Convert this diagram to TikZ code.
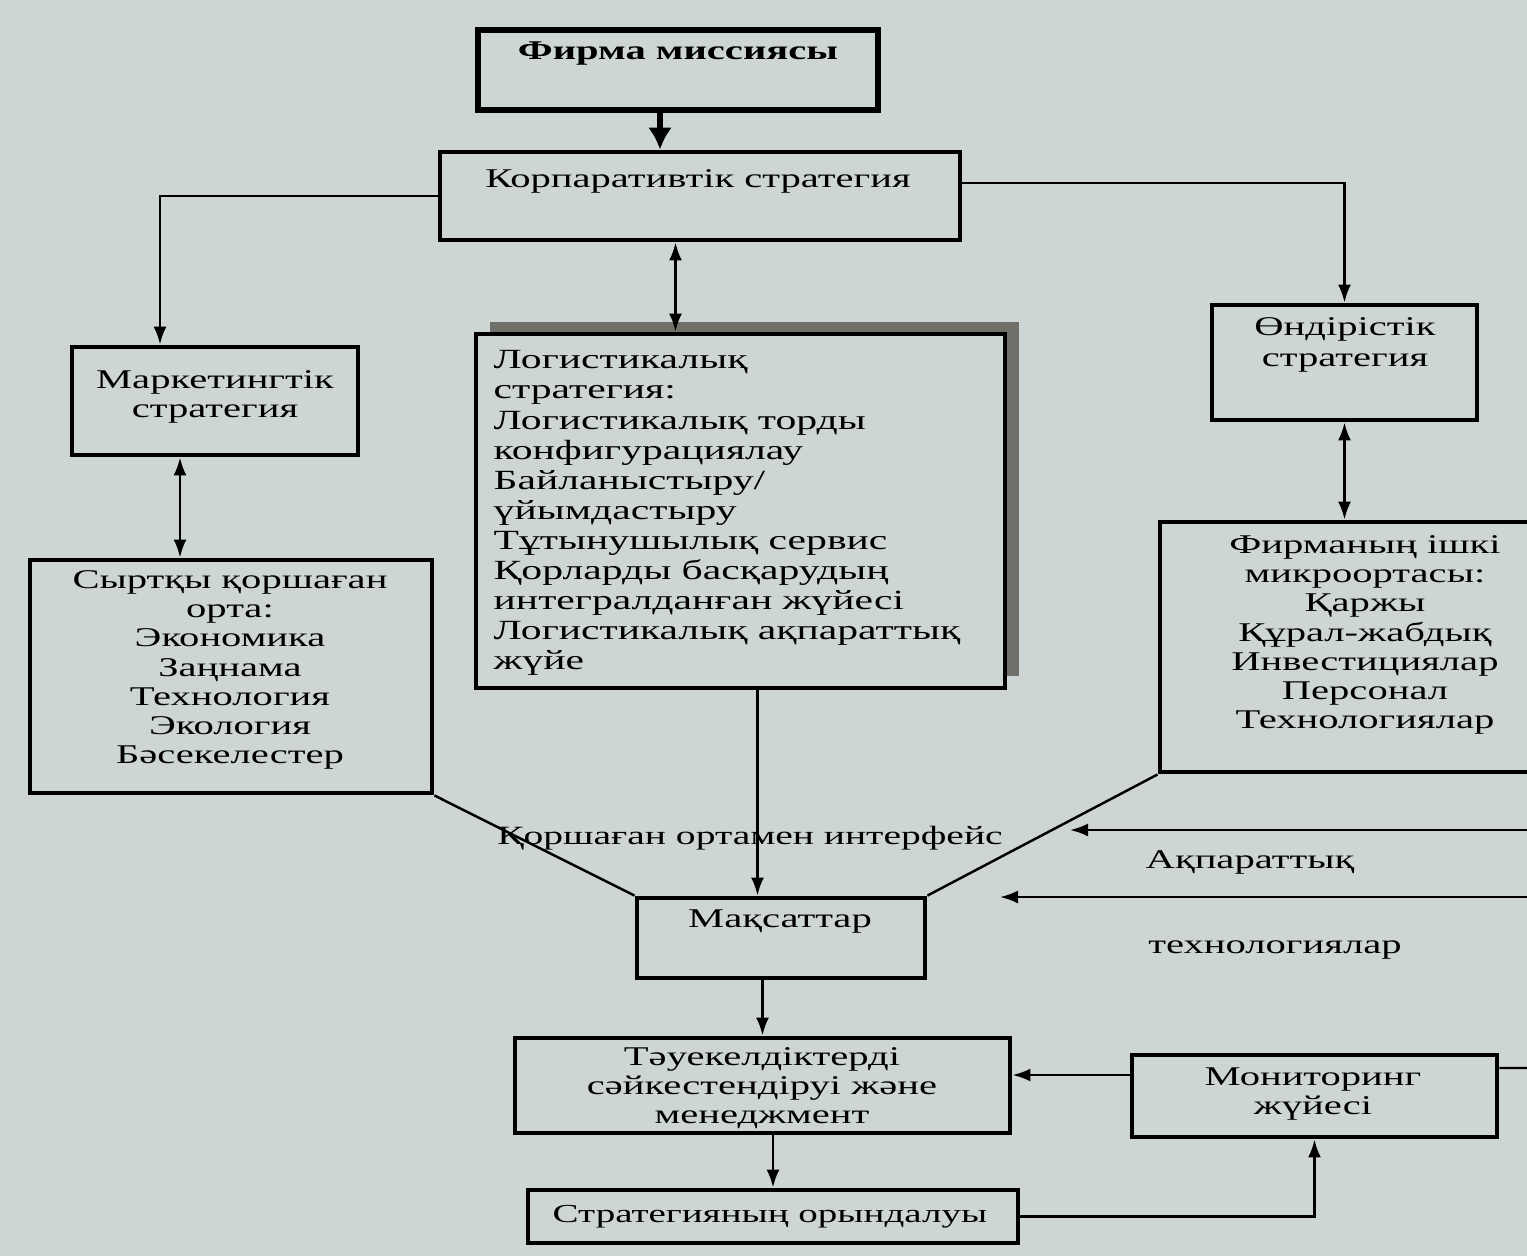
\documentclass[tikz,border=0pt]{standalone}
\usepackage{fontspec}
\setmainfont{Liberation Serif}[FakeStretch=1.5]
\usetikzlibrary{arrows.meta}
\definecolor{paper}{RGB}{206,213,213}
\definecolor{shadowgray}{RGB}{112,112,106}

\begin{document}
\begin{tikzpicture}[x=0.1mm,y=-0.1mm,
  box/.style={draw,fill=paper,line width=1.4pt,inner sep=0pt},
  txt/.style={font=\fontsize{7.7}{8.3}\selectfont,align=center,inner sep=0pt},
  btxt/.style={txt,font=\fontsize{7.7}{8.3}\selectfont\bfseries},
  con/.style={line width=0.7pt},
  >={Latex[length=1.8mm,width=1.3mm]}]

% Page
\useasboundingbox (0,0) rectangle (1527,1256);
\clip (0,0) rectangle (1527,1256);
\fill[paper] (0,0) rectangle (1527,1256);

% Boxes
\node[box,line width=1.8pt,minimum width=40mm,minimum height=8mm] (mis) at (678,70) {};
\node[box,minimum width=52mm,minimum height=8.8mm] (corp) at (700,196) {};
\node[box,minimum width=28.6mm,minimum height=10.8mm] (mkt) at (215,401) {};
\fill[shadowgray] (490,322) rectangle (1019,676);
\node[box,minimum width=52.9mm,minimum height=35.4mm] (log) at (740.5,511) {};
\node[box,minimum width=26.5mm,minimum height=11.5mm] (prod) at (1344.5,362.5) {};
\node[box,minimum width=40.2mm,minimum height=23.3mm] (ext) at (231,676.5) {};
\node[box,minimum width=38mm,minimum height=25mm] (inn) at (1350,647) {};
\node[box,minimum width=28.8mm,minimum height=8mm] (goal) at (781,938) {};
\node[box,minimum width=49.5mm,minimum height=9.5mm] (risk) at (762.5,1085.5) {};
\node[box,minimum width=36.5mm,minimum height=8.2mm] (mon) at (1314.5,1096) {};
\node[box,minimum width=49mm,minimum height=5.3mm] (exe) at (773,1216.5) {};

% Texts
\node[btxt] (mis-t) at (678,54) {Фирма миссиясы};
\node[txt] (corp-t) at (698,181) {Корпаративтік стратегия};
\node[txt] (mkt-t) at (215,397) {Маркетингтік\\стратегия};
\node[txt,align=left,anchor=north west,font=\fontsize{7.9}{8.55}\selectfont] (log-t) at (493,350)
  {Логистикалық\\стратегия:\\Логистикалық торды\\конфигурациялау\\Байланыстыру/\\үйымдастыру\\Тұтынушылық сервис\\Қорларды басқарудың\\интегралданған жүйесі\\Логистикалық ақпараттық\\жүйе};
\node[txt,font=\fontsize{7.7}{9}\selectfont] (prod-t) at (1345,345) {Өндірістік\\стратегия};
\node[txt] (ext-t) at (230,670) {Сыртқы қоршаған\\орта:\\Экономика\\Заңнама\\Технология\\Экология\\Бәсекелестер};
\node[txt] (inn-t) at (1365,635) {Фирманың ішкі\\микроортасы:\\Қаржы\\Құрал-жабдық\\Инвестициялар\\Персонал\\Технологиялар};
\node[txt] (goal-t) at (780,922) {Мақсаттар};
\node[txt] (risk-t) at (762,1088) {Тәуекелдіктерді\\сәйкестендіруі және\\менеджмент};
\node[txt] (mon-t) at (1313,1094) {Мониторинг\\жүйесі};
\node[txt,font=\fontsize{7.4}{8}\selectfont] (exe-t) at (770,1217) {Стратегияның орындалуы};
\node[txt,font=\fontsize{7.5}{8}\selectfont] (ifc) at (750,838) {Қоршаған ортамен интерфейс};
\node[txt] (it-a) at (1250,862) {Ақпараттық};
\node[txt] (it-b) at (1275,950) {технологиялар};

% Mission to corporate
\coordinate (m1) at ([xshift=-1.8mm]mis.south);
\draw[->,line width=1.6pt,>={Latex[length=2.2mm,width=2.4mm]}] (m1) -- (m1 |- corp.north);

% Corporate to the strategies
\draw[con,->] (corp.west) -| ([xshift=-5.5mm]mkt.north);
\draw[con,->] ([yshift=1.3mm]corp.east) -| (prod.north);
\coordinate (c1) at ([xshift=-6.5mm]log.north);
\draw[con,<->] (c1 |- corp.south) -- (c1);
\coordinate (c2) at ([xshift=-3.5mm]mkt.south);
\draw[con,<->] (c2) -- (c2 |- ext.north);
\draw[con,<->] (prod.south) -- (prod.south |- inn.north);

% Interface
\coordinate (c3) at ([xshift=1.7mm]log.south);
\draw[con,->] (c3) -- (c3 |- goal.north);
\draw[con] (ext.south east) -- (goal.north west);
\draw[con] (inn.south west) -- (goal.north east);

% Information technologies
\coordinate (it1) at (1527,830);
\coordinate (it1e) at (1070,830);
\coordinate (it2) at (1527,897);
\coordinate (it2e) at (1000,897);
\draw[con,->] (it1) -- (it1e);
\draw[con,->] (it2) -- (it2e);

% Goals to execution
\draw[con,->] (risk.north |- goal.south) -- (risk.north);
\draw[con,->] (exe.north |- risk.south) -- (exe.north);
\coordinate (c4) at ([yshift=2.1mm]mon.west);
\draw[con,->] (c4) -- (c4 -| risk.east);
\draw[con,->] (exe.east) -| (mon.south);
\coordinate (c5) at ([yshift=2.8mm]mon.east);
\coordinate (mr) at (1527,1068);
\draw[con] (c5) -- (mr);
\end{tikzpicture}
\end{document}
